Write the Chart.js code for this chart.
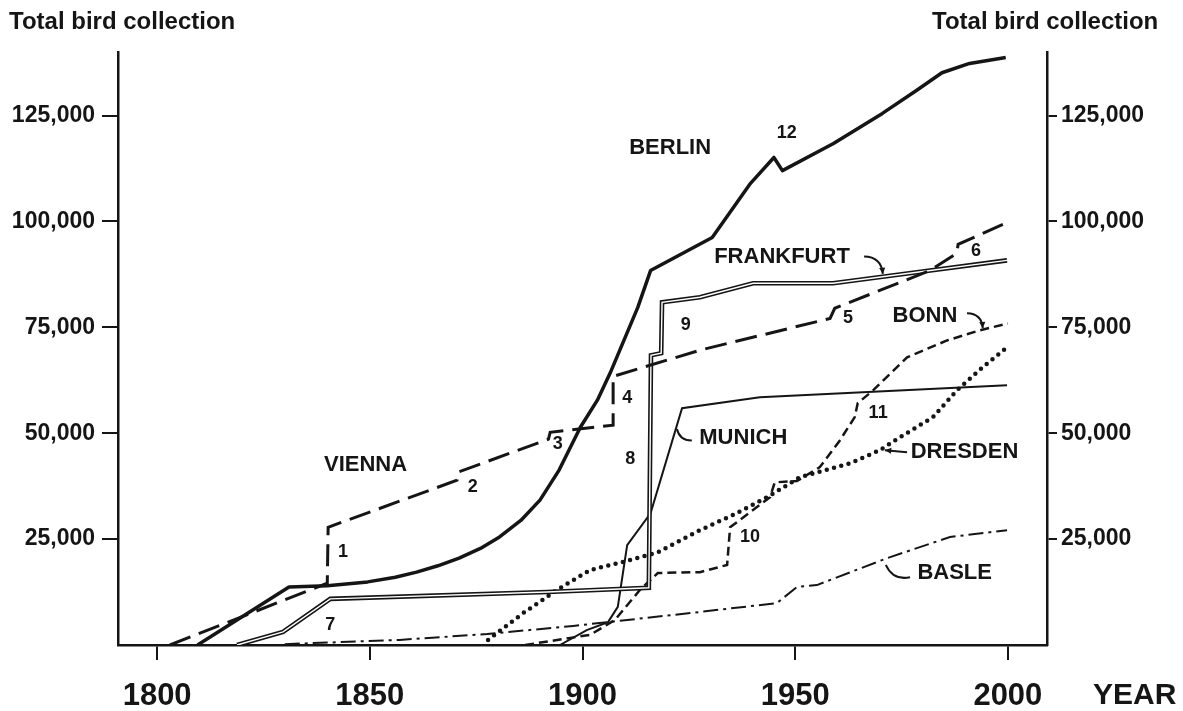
<!DOCTYPE html>
<html>
<head>
<meta charset="utf-8">
<script src="https://cdn.jsdelivr.net/npm/chart.js@4.4.1/dist/chart.umd.min.js"></script>
<style>
  html, body { margin: 0; padding: 0; background: #fff; }
</style>
</head>
<body>
<canvas id="chart" width="1183" height="711"></canvas>
<script>
// [year, total birds]
const berlin = [[1809.5, 0], [1831, 13700], [1840, 14000], [1849.5, 14900], [1856, 16000], [1861, 17200], [1866, 18700], [1871, 20500], [1876, 22800], [1880.5, 25500], [1885.5, 29400], [1890, 34200], [1894.5, 41300], [1899.5, 51400], [1903.5, 57800], [1906.5, 64200], [1913, 79700], [1916, 88400], [1930.5, 96200], [1939.5, 109000], [1945, 115100], [1947, 112000], [1959, 118400], [1970.5, 125500], [1978.5, 130900], [1984.5, 135100], [1991, 137300], [1999.5, 138700]];
const vienna = [[1803, 0], [1840, 14600], [1840.2, 27800], [1870.5, 38900], [1870.7, 40800], [1892, 48600], [1892.4, 50200], [1907.2, 51900], [1907.2, 63400], [1927.6, 69600], [1958.2, 77100], [1959.3, 79500], [1981.7, 88400], [1988, 92500], [1988.3, 94600], [2000, 99800]];
const frankfurt = [[1818.8, 0], [1829.6, 3100], [1840.7, 10900], [1891.7, 12500], [1915.6, 13500], [1916.1, 68400], [1918.5, 68900], [1918.7, 80900], [1927.6, 82100], [1940.1, 85400], [1958.9, 85400], [1978.6, 88000], [1999.8, 90800]];
const munich = [[1894.7, 0], [1901, 3500], [1906, 5400], [1908.3, 9000], [1910.5, 23600], [1916, 31100], [1923.4, 55900], [1941.7, 58500], [1999.8, 61300]];
const dresden = [[1877.8, 1200], [1886, 7500], [1894, 13000], [1901.8, 17700], [1909.5, 19600], [1917.7, 21900], [1927.6, 27100], [1935.4, 30700], [1943.4, 34900], [1951.1, 39600], [1962.9, 42900], [1969.9, 46000], [1974.6, 49000], [1982.4, 53800], [1988, 60100], [1994.1, 65600], [1999.8, 70300]];
const bonn = [[1886.5, 0], [1901.8, 2400], [1907.6, 5900], [1913.5, 13000], [1917.7, 17000], [1927.6, 17200], [1934, 18900], [1934.7, 27800], [1944.1, 34900], [1945.2, 38400], [1950.4, 38700], [1955.8, 42000], [1960.5, 48300], [1964, 53800], [1964.7, 57100], [1968.3, 60100], [1976.3, 67900], [1985.7, 71900], [1993.4, 74300], [2000, 75900]];
const basle = [[1830, 200], [1857, 1200], [1877.6, 2600], [1897.8, 4500], [1927.6, 7800], [1945.7, 9900], [1950.4, 13700], [1955.1, 14150], [1971.6, 20500], [1986.4, 25500], [1999.8, 27100]];

const yearTicks = [1800, 1850, 1900, 1950, 2000];
const countTicks = [25000, 50000, 75000, 100000, 125000];

// text on the plot, placed in data units
const cityLabels = [['BERLIN', 1920.6, 117400], ['FRANKFURT', 1946.9, 91500], ['BONN', 1980.5, 77800], ['VIENNA', 1849, 42500], ['MUNICH', 1937.8, 48800], ['DRESDEN', 1989.8, 45500], ['BASLE', 1987.5, 16900]];
const noteLabels = [['1', 1843.7, 21900], ['2', 1874.2, 37300], ['3', 1894.2, 47400], ['4', 1910.5, 58200], ['5', 1962.4, 77100], ['6', 1992.5, 92900], ['7', 1840.7, 4700], ['8', 1911.2, 44000], ['9', 1924.3, 75500], ['10', 1939.4, 25500], ['11', 1969.5, 54700], ['12', 1948, 120800]];
// leader strokes: from (x0,y0) to (x1,y1), bend, arrow head
const leaders = [[1966.2, 91700, 1970.6, 87600, -0.45, true], [1990.4, 78300, 1994.1, 74800, -0.45, true], [1925.7, 48300, 1922.2, 51000, -0.4, false], [1976.3, 45500, 1971.1, 46000, 0, true], [1977.0, 16000, 1971.3, 18900, -0.4, false]];

const ink = '#151515';
const font = '"Liberation Sans", Arial, sans-serif';
const pts = arr => arr.map(([x, y]) => ({x, y}));

const textPlugin = {
	id: 'texts',
	beforeDraw(chart) {
		const c = chart.ctx;
		c.save();
		c.fillStyle = '#fff';
		c.fillRect(0, 0, chart.width, chart.height);
		c.restore();
	},
	afterDraw(chart) {
		const c = chart.ctx, xs = chart.scales.x, ys = chart.scales.y;
		c.save();
		c.fillStyle = ink;
		c.strokeStyle = ink;
		c.textBaseline = 'middle';

		c.font = 'bold 24px ' + font;
		c.textAlign = 'left';
		c.fillText('Total bird collection', 9, 22);
		c.fillText('Total bird collection', 932, 22);

		c.font = 'bold 30px ' + font;
		c.fillText('YEAR', 1093, 696);

		c.textAlign = 'center';
		c.font = 'bold 22px ' + font;
		cityLabels.forEach(([t, x, y]) => c.fillText(t, xs.getPixelForValue(x), ys.getPixelForValue(y)));
		c.font = 'bold 18px ' + font;
		noteLabels.forEach(([t, x, y]) => c.fillText(t, xs.getPixelForValue(x), ys.getPixelForValue(y)));

		c.lineWidth = 2;
		leaders.forEach(([x0, y0, x1, y1, bend, head]) => {
			const ax = xs.getPixelForValue(x0), ay = ys.getPixelForValue(y0);
			const bx = xs.getPixelForValue(x1), by = ys.getPixelForValue(y1);
			const mx = (ax + bx) / 2 - (by - ay) * bend, my = (ay + by) / 2 + (bx - ax) * bend;
			c.beginPath();
			c.moveTo(ax, ay);
			c.quadraticCurveTo(mx, my, bx, by);
			c.stroke();
			if (head) {
				const ang = Math.atan2(by - my, bx - mx);
				c.beginPath();
				c.moveTo(bx, by);
				c.lineTo(bx - 7 * Math.cos(ang - 0.45), by - 7 * Math.sin(ang - 0.45));
				c.lineTo(bx - 7 * Math.cos(ang + 0.45), by - 7 * Math.sin(ang + 0.45));
				c.closePath();
				c.fill();
			}
		});
		c.restore();
	}
};

const axisGrid = len => ({drawOnChartArea: false, drawTicks: true, tickLength: len, color: ink, lineWidth: 2});
const countAxis = (pos, width, len, pad) => ({
	type: 'linear', position: pos, min: 0, max: 140000,
	afterBuildTicks: s => { s.ticks = countTicks.map(v => ({value: v})); },
	afterFit: s => { s.width = width; },
	grid: axisGrid(len),
	border: {display: true, color: ink, width: 2.5},
	ticks: {color: ink, padding: pad, font: {family: font, size: 23, weight: 'bold'}, callback: v => v.toLocaleString('en-US')}
});

new Chart(document.getElementById('chart'), {
	type: 'line',
	data: {
		datasets: [
			{label: 'Berlin', data: pts(berlin), borderColor: ink, borderWidth: 3.5, borderJoinStyle: 'round'},
			{label: 'Vienna', data: pts(vienna), borderColor: ink, borderWidth: 3, borderDash: [22, 9]},
			{label: 'Frankfurt inner', data: pts(frankfurt), borderColor: '#fff', borderWidth: 1.4, order: 0},
			{label: 'Frankfurt', data: pts(frankfurt), borderColor: ink, borderWidth: 4.6, order: 1},
			{label: 'Munich', data: pts(munich), borderColor: ink, borderWidth: 2},
			{label: 'Dresden', data: pts(dresden), borderColor: ink, borderWidth: 4.5, borderDash: [0, 7.5], borderCapStyle: 'round'},
			{label: 'Bonn', data: pts(bonn), borderColor: ink, borderWidth: 2.5, borderDash: [9, 5]},
			{label: 'Basle', data: pts(basle), borderColor: ink, borderWidth: 2, borderDash: [15, 5, 3, 5]}
		]
	},
	options: {
		responsive: false,
		animation: false,
		events: [],
		layout: {padding: {top: 52, left: 0, right: 0, bottom: 0}},
		elements: {point: {radius: 0}, line: {tension: 0, fill: false}},
		plugins: {legend: {display: false}, tooltip: {enabled: false}},
		scales: {
			x: {
				type: 'linear', min: 1790.8, max: 2009.2,
				afterBuildTicks: s => { s.ticks = yearTicks.map(v => ({value: v})); },
				afterFit: s => { s.height = 66; },
				grid: axisGrid(15),
				border: {display: true, color: ink, width: 2.5},
				ticks: {color: ink, padding: 18, maxRotation: 0, font: {family: font, size: 31, weight: 'bold'}, callback: v => String(v)}
			},
			y: countAxis('left', 118, 16, 7),
			y2: countAxis('right', 136, 10, 4)
		}
	},
	plugins: [textPlugin]
});
</script>
</body>
</html>
